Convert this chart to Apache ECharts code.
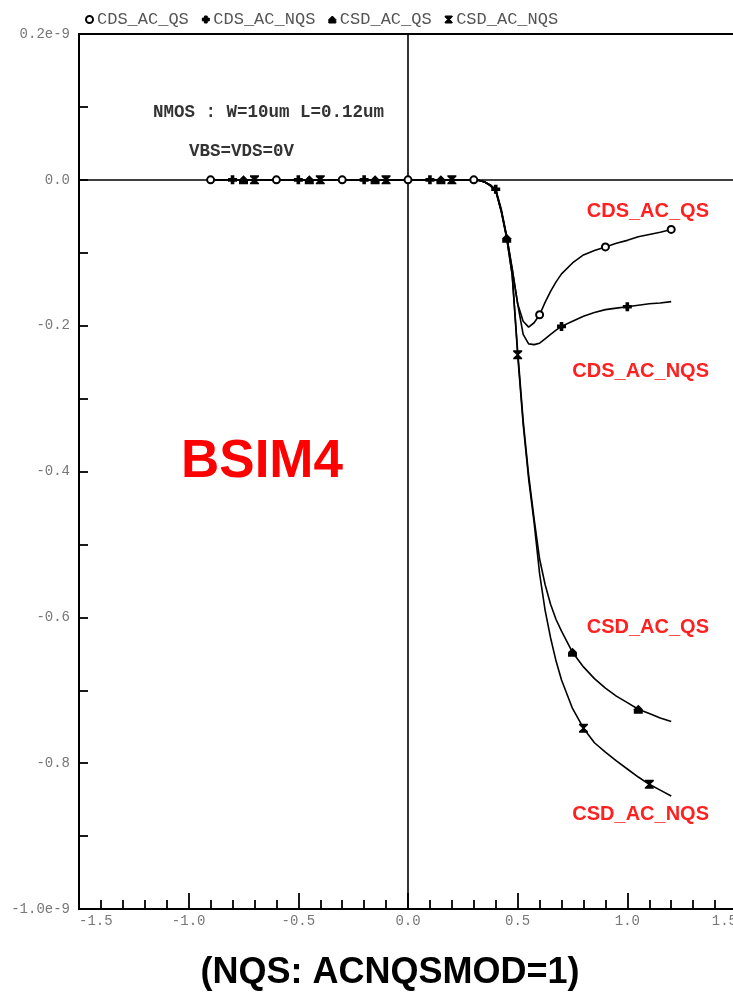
<!DOCTYPE html>
<html>
<head>
<meta charset="utf-8">
<script src="https://cdn.jsdelivr.net/npm/echarts@6/dist/echarts.min.js"></script>
<style>
  html, body { margin: 0; padding: 0; background: #fff; overflow: hidden; }
  #chart { width: 733px; height: 998px; }
</style>
</head>
<body>
<div id="chart"></div>
<script>
// Gate voltage sweep (V)
const xValues = [
  -0.9, -0.85, -0.8, -0.75, -0.7, -0.65, -0.6, -0.55, -0.5, -0.45, -0.4, -0.35, -0.3,
  -0.25, -0.2, -0.15, -0.1, -0.05, 0, 0.05, 0.1, 0.15, 0.2, 0.25, 0.3,
  0.325, 0.35, 0.375, 0.4, 0.425, 0.45, 0.475, 0.5, 0.525, 0.55, 0.575, 0.6, 0.625, 0.65, 0.675, 0.7,
  0.75, 0.8, 0.85, 0.9, 0.95, 1.0, 1.05, 1.1, 1.15, 1.2
];

// Capacitances (units of 1e-9)
const cdsAcQs = [
  0, 0, 0, 0, 0, 0, 0, 0, 0, 0, 0, 0, 0, 0, 0, 0, 0, 0, 0, 0, 0, 0, 0, 0, 0,
  -0.001, -0.003, -0.007, -0.014, -0.042, -0.078, -0.122, -0.17, -0.194, -0.202, -0.196, -0.185, -0.168, -0.153, -0.14, -0.129,
  -0.114, -0.103, -0.097, -0.092, -0.087, -0.083, -0.078, -0.075, -0.072, -0.068
];
const cdsAcNqs = [
  0, 0, 0, 0, 0, 0, 0, 0, 0, 0, 0, 0, 0, 0, 0, 0, 0, 0, 0, 0, 0, 0, 0, 0, 0,
  -0.001, -0.003, -0.007, -0.013, -0.04, -0.077, -0.122, -0.17, -0.212, -0.225, -0.226, -0.224, -0.218, -0.212, -0.206, -0.201,
  -0.194, -0.187, -0.182, -0.178, -0.176, -0.174, -0.172, -0.17, -0.169, -0.167
];
const csdAcQs = [
  0, 0, 0, 0, 0, 0, 0, 0, 0, 0, 0, 0, 0, 0, 0, 0, 0, 0, 0, 0, 0, 0, 0, 0, 0,
  -0.001, -0.003, -0.008, -0.015, -0.043, -0.08, -0.13, -0.235, -0.33, -0.405, -0.465, -0.52, -0.555, -0.582, -0.603, -0.619,
  -0.648, -0.668, -0.684, -0.697, -0.708, -0.717, -0.726, -0.732, -0.738, -0.743
];
const csdAcNqs = [
  0, 0, 0, 0, 0, 0, 0, 0, 0, 0, 0, 0, 0, 0, 0, 0, 0, 0, 0, 0, 0, 0, 0, 0, 0,
  -0.001, -0.003, -0.008, -0.015, -0.043, -0.08, -0.13, -0.24, -0.335, -0.41, -0.47, -0.54, -0.59, -0.628, -0.66, -0.686,
  -0.725, -0.752, -0.772, -0.785, -0.797, -0.808, -0.819, -0.829, -0.837, -0.845
];

// Sweep points that carry a marker for each curve
const cdsAcQsMarks = [-0.9, -0.6, -0.3, 0, 0.3, 0.6, 0.9, 1.2];
const cdsAcNqsMarks = [-0.8, -0.5, -0.2, 0.1, 0.4, 0.7, 1.0];
const csdAcQsMarks = [-0.75, -0.45, -0.15, 0.15, 0.45, 0.75, 1.05];
const csdAcNqsMarks = [-0.7, -0.4, -0.1, 0.2, 0.5, 0.8, 1.1];

const seriesNames = ['CDS_AC_QS', 'CDS_AC_NQS', 'CSD_AC_QS', 'CSD_AC_NQS'];

const symbols = {
  CDS_AC_QS: 'emptyCircle',
  CDS_AC_NQS: 'path://M3,0 L7,0 L7,3 L10,3 L10,7 L7,7 L7,10 L3,10 L3,7 L0,7 L0,3 L3,3 Z',
  CSD_AC_QS: 'path://M5,0 L10,5 L10,10 L0,10 L0,5 Z',
  CSD_AC_NQS: 'path://M0,0 L10,0 L10,1.5 L6.2,5 L10,8.5 L10,10 L0,10 L0,8.5 L3.8,5 L0,1.5 Z'
};

function buildData(ys, marks, sym) {
  return xValues.map((x, i) => {
    const marked = marks.some(m => Math.abs(m - x) < 1e-6);
    return { value: [x, ys[i]], symbol: marked ? sym : 'none' };
  });
}

function lineSeries(name, ys, marks) {
  return {
    name: name,
    type: 'line',
    data: buildData(ys, marks, symbols[name]),
    showAllSymbol: true,
    symbolSize: name === 'CDS_AC_QS' ? 7 : 9,
    color: '#000',
    itemStyle: { color: '#000', borderWidth: 1.3 },
    lineStyle: { color: '#000', width: 1.6 },
    smooth: false,
    z: 3
  };
}

const series = [
  lineSeries('CDS_AC_QS', cdsAcQs, cdsAcQsMarks),
  lineSeries('CDS_AC_NQS', cdsAcNqs, cdsAcNqsMarks),
  lineSeries('CSD_AC_QS', csdAcQs, csdAcQsMarks),
  lineSeries('CSD_AC_NQS', csdAcNqs, csdAcNqsMarks)
];

// Zero reference lines across the plot
series[0].markLine = {
  silent: true,
  symbol: ['none', 'none'],
  label: { show: false },
  lineStyle: { color: '#000', width: 1.6, type: 'solid' },
  data: [{ xAxis: 0 }, { yAxis: 0 }],
  z: 1
};

const monoFont = '"Liberation Mono", "DejaVu Sans Mono", monospace';
const sansBold = '"Liberation Sans", Arial, sans-serif';

const chart = echarts.init(document.getElementById('chart'), null, { renderer: 'canvas' });

chart.setOption({
  animation: false,
  backgroundColor: '#fff',
  grid: {
    left: 79, right: -4, top: 34, bottom: 89,
    outerBoundsMode: 'none', containLabel: false,
    show: true, borderColor: '#000', borderWidth: 2, backgroundColor: 'transparent'
  },
  legend: {
    left: 80, top: 6,
    itemWidth: 7, itemHeight: 7, itemGap: 13,
    data: seriesNames.map(n => ({ name: n, icon: symbols[n] })),
    itemStyle: { color: '#000', borderColor: '#000', borderWidth: 1 },
    lineStyle: { width: 0 },
    textStyle: { fontFamily: monoFont, fontSize: 17, color: '#555', padding: [0, 0, 0, -1] }
  },
  xAxis: {
    type: 'value',
    min: -1.5, max: 1.5, interval: 0.5,
    axisLine: { show: true, onZero: false, lineStyle: { color: '#000', width: 2 } },
    axisTick: { show: true, inside: true, length: 16, lineStyle: { color: '#000', width: 1.8 } },
    minorTick: { show: true, splitNumber: 5, length: 9, lineStyle: { color: '#000', width: 1.8 } },
    splitLine: { show: false },
    axisLabel: {
      margin: 5, fontFamily: monoFont, fontSize: 14, color: '#777',
      alignMinLabel: 'left', alignMaxLabel: 'right',
      formatter: v => v.toFixed(1)
    }
  },
  yAxis: {
    type: 'value',
    min: -1.0, max: 0.2, interval: 0.2,
    axisLine: { show: true, onZero: false, lineStyle: { color: '#000', width: 2 } },
    axisTick: { show: true, inside: true, length: 9, lineStyle: { color: '#000', width: 1.8 } },
    minorTick: { show: true, splitNumber: 2, length: 9, lineStyle: { color: '#000', width: 1.8 } },
    splitLine: { show: false },
    axisLabel: {
      margin: 9, fontFamily: monoFont, fontSize: 14, color: '#777', padding: [0, 0, 8, 0],
      formatter: v => {
        const s = (Math.abs(v) < 1e-9 ? 0 : v).toFixed(1);
        return (Math.abs(v - 0.2) < 1e-9 || Math.abs(v + 1.0) < 1e-9) ? s + 'e-9' : s;
      }
    }
  },
  series: series,
  graphic: [
    { type: 'text', left: 153, top: 104, style: { text: 'NMOS : W=10um L=0.12um', font: 'bold 17.5px ' + monoFont, fill: '#333' } },
    { type: 'text', left: 189, top: 143, style: { text: 'VBS=VDS=0V', font: 'bold 17.5px ' + monoFont, fill: '#333' } },
    { type: 'text', left: 181, top: 436, style: { text: 'BSIM4', font: 'bold 53px ' + sansBold, fill: '#ff0000' } },
    { type: 'text', x: 709, y: 211, style: { text: 'CDS_AC_QS', font: 'bold 20px ' + sansBold, fill: '#ff2020', align: 'right', verticalAlign: 'middle' } },
    { type: 'text', x: 709, y: 371, style: { text: 'CDS_AC_NQS', font: 'bold 20px ' + sansBold, fill: '#ff2020', align: 'right', verticalAlign: 'middle' } },
    { type: 'text', x: 709, y: 627, style: { text: 'CSD_AC_QS', font: 'bold 20px ' + sansBold, fill: '#ff2020', align: 'right', verticalAlign: 'middle' } },
    { type: 'text', x: 709, y: 814, style: { text: 'CSD_AC_NQS', font: 'bold 20px ' + sansBold, fill: '#ff2020', align: 'right', verticalAlign: 'middle' } },
    { type: 'text', x: 390, y: 973, style: { text: '(NQS: ACNQSMOD=1)', font: 'bold 36px ' + sansBold, fill: '#000', align: 'center', verticalAlign: 'middle' } }
  ]
});
</script>
</body>
</html>
